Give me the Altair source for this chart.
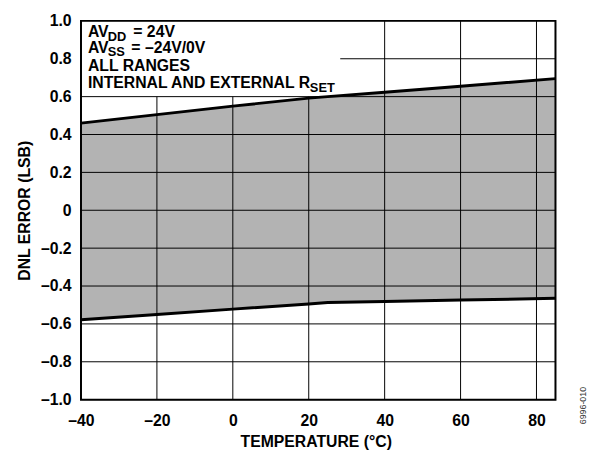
import altair as alt
import pandas as pd

# ---- data ----
temps = [-40, -20, 0, 20, 25, 40, 60, 85]
dnl_max = [0.460, 0.505, 0.550, 0.592, 0.600, 0.623, 0.655, 0.695]
dnl_min = [-0.578, -0.550, -0.522, -0.495, -0.487, -0.482, -0.474, -0.465]

x_domain = [-40, 85]
y_domain = [-1.0, 1.0]
x_ticks = [-40, -20, 0, 20, 40, 60, 80]
y_ticks = [-1.0, -0.8, -0.6, -0.4, -0.2, 0.0, 0.2, 0.4, 0.6, 0.8, 1.0]

# grid segments (the annotation box hides part of the grid)
vgrid_x = [-20, 0, 20, 40, 60, 80]
vgrid_top = [0.6, 0.6, 0.6, 1.0, 1.0, 1.0]
hgrid_y = [-0.8, -0.6, -0.4, -0.2, 0.0, 0.2, 0.4, 0.6, 0.8]
hgrid_left = [-40, -40, -40, -40, -40, -40, -40, -40, 28.3]

FONT = "Liberation Sans"

band = pd.DataFrame({"t": temps, "hi": dnl_max, "lo": dnl_min})
vgrid = pd.DataFrame({"t": vgrid_x, "hi": [y_domain[0]] * len(vgrid_x), "lo": vgrid_top})
hgrid = pd.DataFrame({"hi": hgrid_y, "t": hgrid_left, "t2": [x_domain[1]] * len(hgrid_y)})
frame = pd.DataFrame({"t": [x_domain[0]], "t2": [x_domain[1]], "hi": [y_domain[0]], "lo": [y_domain[1]]})
anchor = pd.DataFrame({"t": [x_domain[0]], "hi": [y_domain[1]]})
corner = pd.DataFrame({"t": [x_domain[1]], "hi": [y_domain[0]]})

xscale = alt.Scale(domain=x_domain, nice=False, zero=False)
yscale = alt.Scale(domain=y_domain, nice=False, zero=False)

x_axis = alt.Axis(
    values=x_ticks, grid=False, ticks=False, tickSize=0, domain=False, labelFlush=False,
    labelFont=FONT, labelFontSize=16, labelFontWeight="bold", labelColor="black",
    labelBaseline="alphabetic", labelPadding=26.5,
    labelExpr="replace(replace(format(datum.value, 'd'), '\u2212', '\u2013'), '-', '\u2013')",
    title="TEMPERATURE (°C)", titleFont=FONT, titleFontSize=16, titleFontWeight="bold",
    titleColor="black", titleBaseline="alphabetic", titleY=47, titleX=238,
)
y_axis = alt.Axis(
    values=y_ticks, grid=False, ticks=False, tickSize=0, domain=False, labelFlush=False,
    labelFont=FONT, labelFontSize=16, labelFontWeight="bold", labelColor="black",
    labelPadding=10,
    labelExpr="datum.value == 0 ? '0' : replace(replace(format(datum.value, '.1f'), '\u2212', '\u2013'), '-', '\u2013')",
    title="DNL ERROR (LSB)", titleFont=FONT, titleFontSize=16, titleFontWeight="bold",
    titleColor="black", titleBaseline="alphabetic", titleX=-52, titleAngle=270,
)

X = alt.X("t:Q", scale=xscale, axis=x_axis)
Y = alt.Y("hi:Q", scale=yscale, axis=y_axis)

area = alt.Chart(band).mark_area(color="#b3b3b3", opacity=1).encode(x=X, y=Y, y2="lo:Q")

vrules = alt.Chart(vgrid).mark_rule(color="black", strokeWidth=1).encode(x=X, y=Y, y2="lo:Q")
hrules = alt.Chart(hgrid).mark_rule(color="black", strokeWidth=1).encode(y=Y, x=X, x2="t2:Q")

upper = alt.Chart(band).mark_line(color="black", strokeWidth=3).encode(x=X, y=Y)
lower = alt.Chart(band).mark_line(color="black", strokeWidth=3).encode(
    x=X, y=alt.Y("lo:Q", scale=yscale, axis=y_axis)
)

box = alt.Chart(frame).mark_rect(fill=None, fillOpacity=0, stroke="black", strokeWidth=2).encode(
    x=X, x2="t2:Q", y=Y, y2="lo:Q"
)

# annotation segments: text, dx, dy, font size
segments = [
    ("AV", 7, 16.5, 16),
    ("DD", 27, 20, 13),
    ("= 24V", 53, 16.5, 16),
    ("AV", 7, 32.5, 16),
    ("SS", 27, 35.5, 13),
    ("= \u201324V/0V", 51, 32.5, 16),
    ("ALL RANGES", 7, 50.7, 16),
    ("INTERNAL AND EXTERNAL R", 7, 68.2, 16),
    ("SET", 232, 71.7, 13),
]
texts = []
for s, dx, dy, fs in segments:
    texts.append(
        alt.Chart(anchor).mark_text(
            text=s, align="left", baseline="alphabetic", dx=dx, dy=dy,
            font=FONT, fontSize=fs, fontWeight="bold", color="black",
        ).encode(x=X, y=Y)
    )

mark_id = alt.Chart(corner).mark_text(
    text="6996-010", angle=270, align="center", baseline="middle",
    dx=-6, dy=28, font=FONT, fontSize=9, color="#333333",
).encode(x=X, y=Y)

chart = alt.layer(area, vrules, hrules, upper, lower, box, *texts, mark_id).properties(
    width=481, height=384,
    autosize=alt.AutoSizeParams(type="none"),
    padding={"left": 74, "top": 10, "right": 34, "bottom": 49},
).configure_view(stroke=None).configure(background="white")

chart.save("out.html", embed_options={"renderer": "svg", "actions": False})
